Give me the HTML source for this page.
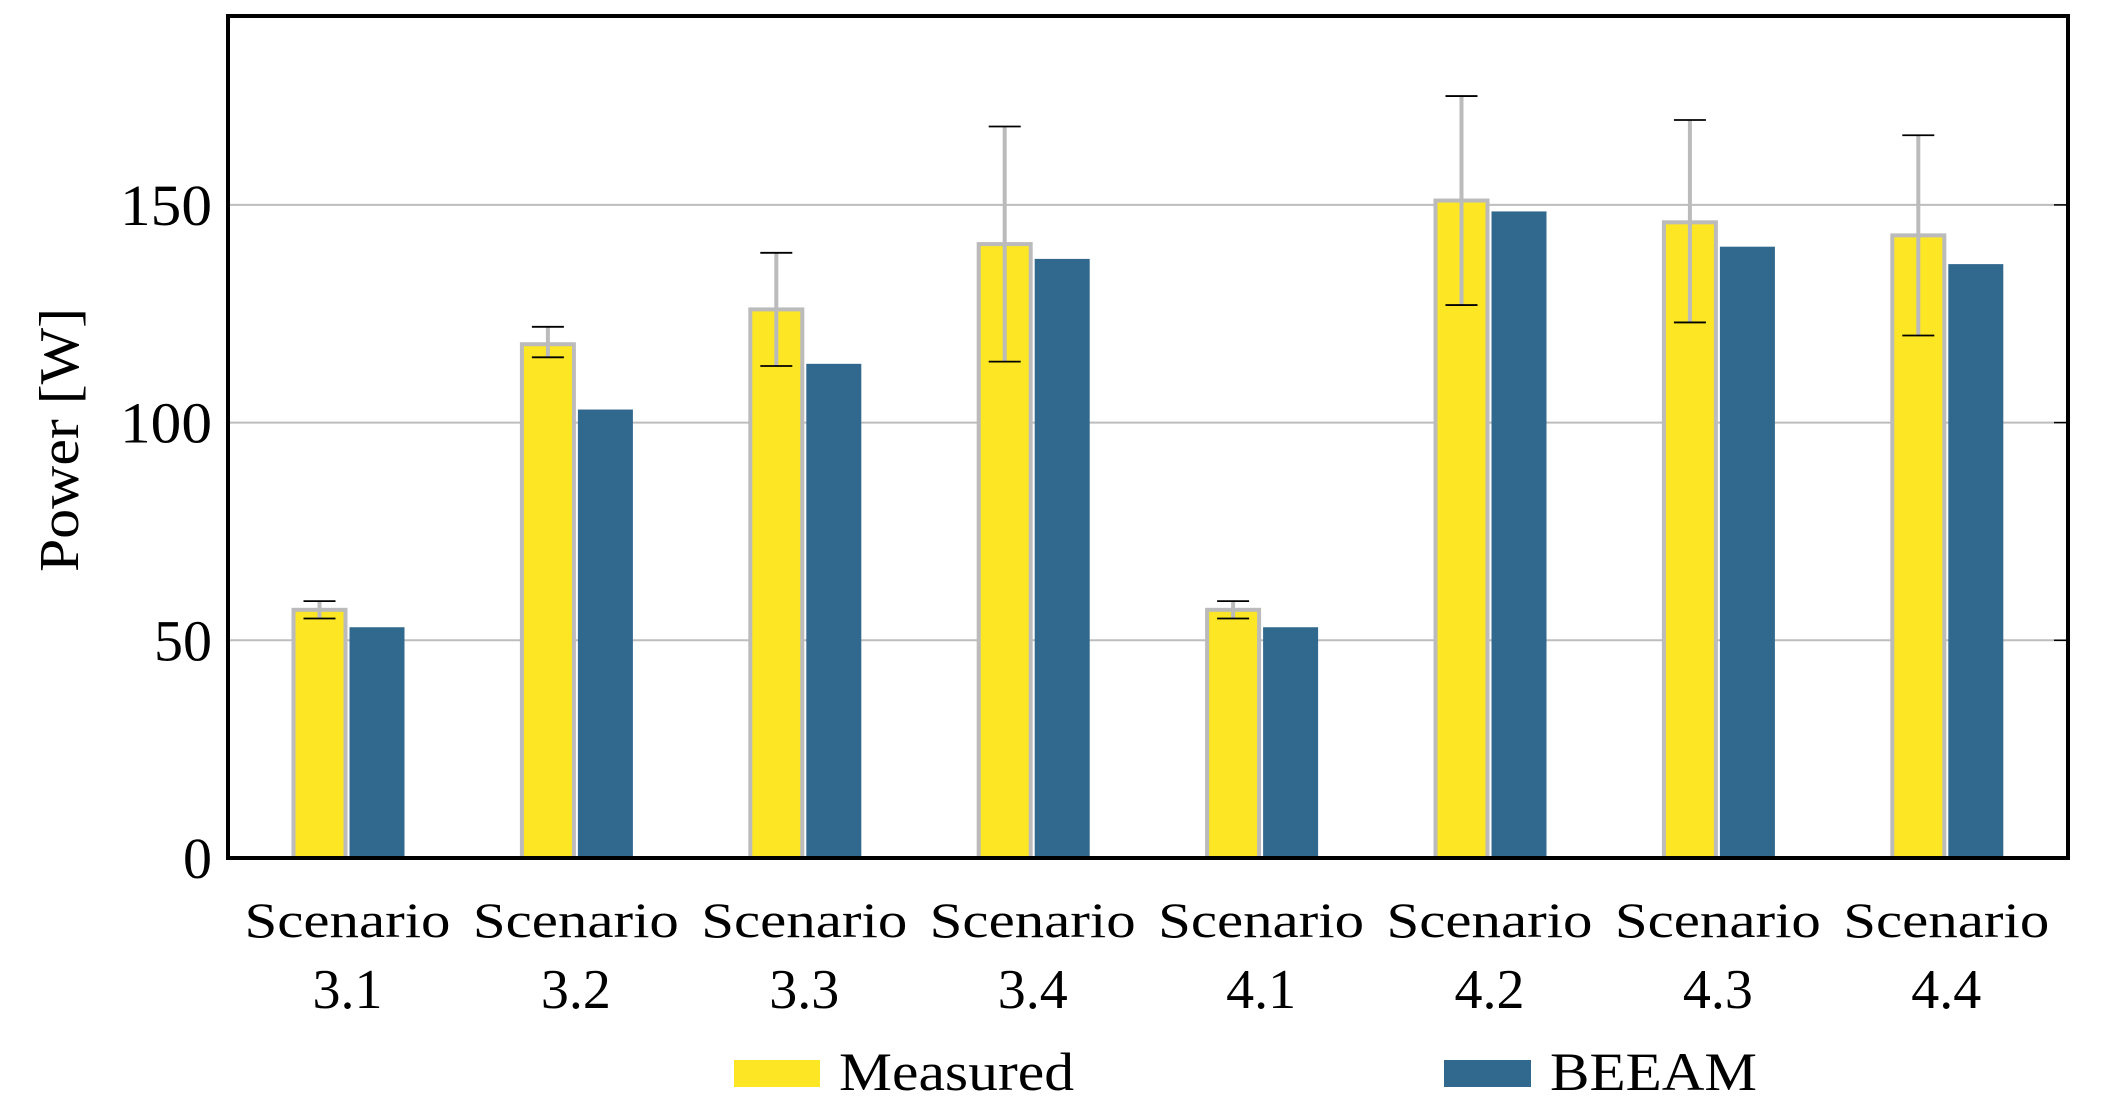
<!DOCTYPE html>
<html><head><meta charset="utf-8">
<style>
html,body{margin:0;padding:0;background:#fff;}
svg{display:block;font-family:"Liberation Serif",serif;}
</style></head>
<body>
<svg id="chart" width="2104" height="1118" viewBox="0 0 2104 1118"></svg>
<script>
const categories = ["3.1","3.2","3.3","3.4","4.1","4.2","4.3","4.4"];
const measured = [57,118,126,141,57,151,146,143];
const measuredUpper = [59,122,139,168,59,175,169.5,166];
const measuredLower = [55,115,113,114,55,127,123,120];
const beeam = [53,103,113.5,137.6,53,148.5,140.4,136.4];
const yTicks = [0,50,100,150];

const NS = "http://www.w3.org/2000/svg";
const svg = document.getElementById('chart');
const L = 228, R = 2068, T = 16, B = 858;
const yMax = (B - T) / 4.354;
function y(v){ return B - v * (B - T) / yMax; }
function xc(i){ return 347.5 + i * 228.4; }
function mk(tag, attrs, parent){
  const e = document.createElementNS(NS, tag);
  for (const k in attrs) e.setAttribute(k, attrs[k]);
  (parent || svg).appendChild(e);
  return e;
}

yTicks.forEach(function(t){
  if (t === 0) return;
  const g = mk('line', {x1:L, x2:R, y1:y(t), y2:y(t), stroke:'#bdbdbd', 'stroke-width':2});
  
  
});
yTicks.forEach(function(t){
  const attrs = {x:212, y:y(t)+20, 'text-anchor':'end', 'font-size':58, fill:'#000'};
  if (t >= 100) { attrs.textLength = 92; attrs.lengthAdjust = 'spacingAndGlyphs'; }
  const tx = mk('text', attrs);
  tx.textContent = t;
  
  
});

categories.forEach(function(c, i){
  const cx = xc(i);
  const mb = mk('rect', {x:cx-54, y:y(measured[i]), width:52, height:B-y(measured[i]), fill:'#fde725', stroke:'#bbbbbb', 'stroke-width':4});
  
  
  const bb = mk('rect', {x:cx+2, y:y(beeam[i]), width:55, height:B-y(beeam[i]), fill:'#31688e'});
  
  
  const ex = cx - 28;
  const el = mk('line', {x1:ex, x2:ex, y1:y(measuredUpper[i]), y2:y(measuredLower[i]), stroke:'#bbbbbb', 'stroke-width':4});
  
  
  [measuredUpper[i], measuredLower[i]].forEach(function(v){
    const cap = mk('line', {x1:ex-16, x2:ex+16, y1:y(v), y2:y(v), stroke:'#000', 'stroke-width':1.8});
    
    
  });
  const l1 = mk('text', {x:cx, y:937, 'text-anchor':'middle', 'font-size':50, textLength:206, lengthAdjust:'spacingAndGlyphs'});
  l1.textContent = 'Scenario';
  
  
  const l2 = mk('text', {x:cx, y:1008, 'text-anchor':'middle', 'font-size':56});
  l2.textContent = c;
  
  
});

yTicks.forEach(function(t){
  const tk = mk('line', {x1:R-14, x2:R, y1:y(t), y2:y(t), stroke:'#000', 'stroke-width':1.5});
  
  
});

const fr = mk('rect', {x:L, y:T, width:R-L, height:B-T, fill:'none', stroke:'#000', 'stroke-width':4});



const yt = mk('text', {x:0, y:0, 'text-anchor':'middle', 'font-size':56, transform:'translate(78,440) rotate(-90)', textLength:264, lengthAdjust:'spacingAndGlyphs'});
yt.textContent = 'Power [W]';



const lg1 = mk('rect', {x:734, y:1060, width:86, height:27, fill:'#fde725'});


const lt1 = mk('text', {x:839, y:1090, 'font-size':54, textLength:235, lengthAdjust:'spacingAndGlyphs'});
lt1.textContent = 'Measured';


const lg2 = mk('rect', {x:1444, y:1060, width:87, height:27, fill:'#31688e'});


const lt2 = mk('text', {x:1550, y:1090, 'font-size':54, textLength:207, lengthAdjust:'spacingAndGlyphs'});
lt2.textContent = 'BEEAM';


</script>
</body></html>
